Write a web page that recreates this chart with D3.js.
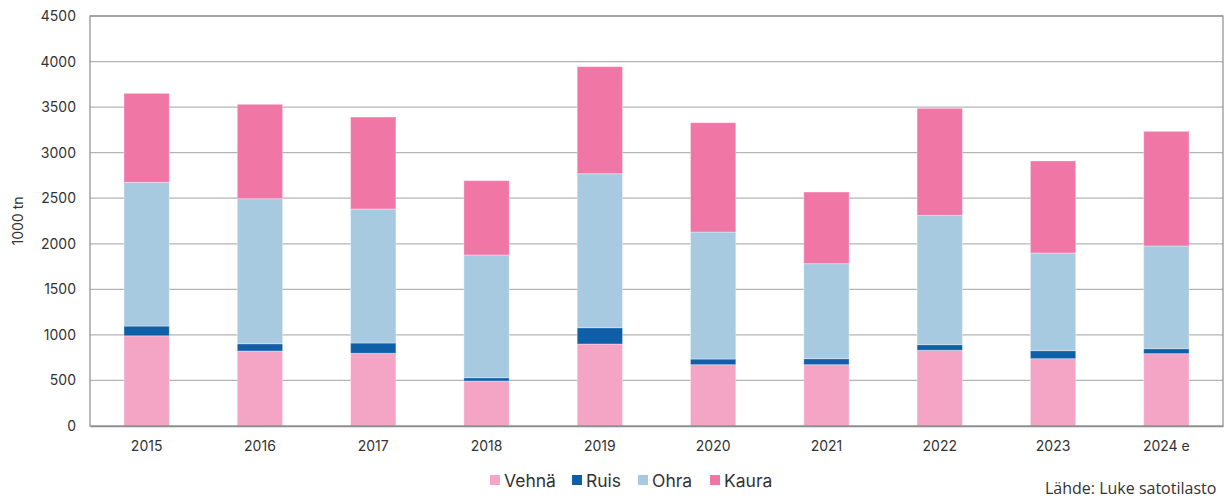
<!DOCTYPE html>
<html><head><meta charset="utf-8">
<script src="https://cdn.jsdelivr.net/npm/d3@7"></script>
<style>body{margin:0;background:#fff;font-family:Inter,"Open Sans",sans-serif;}</style>
</head><body><svg id="c" width="1225" height="499"></svg>
<script>
const categories = ["2015","2016","2017","2018","2019","2020","2021","2022","2023","2024 e"];
const vehna = [990,823,798,494,900,673,673,831,739,794];
const ruis  = [107,80,113,36,179,62,66,62,88,55];
const ohra  = [1578,1592,1471,1347,1690,1394,1043,1419,1072,1127];
const kaura = [976,1036,1009,816,1175,1200,786,1175,1010,1258];
const seriesNames = ["Vehnä","Ruis","Ohra","Kaura"];
const colors = ["#f4a4c4","#0f5ea8","#a8cae1","#ef76a5"];
const yTicks = [0,500,1000,1500,2000,2500,3000,3500,4000,4500];

const svg = d3.select("#c");
const m = {l:90,r:1223,t:16,b:426};
const x = d3.scaleBand().domain(categories).range([m.l,m.r]).paddingInner(0.6).paddingOuter(0.3);
const y = d3.scaleLinear().domain([0,4500]).range([m.b,m.t]);

const rows = categories.map((c,i)=>({cat:c,Vehnä:vehna[i],Ruis:ruis[i],Ohra:ohra[i],Kaura:kaura[i]}));
const stack = d3.stack().keys(seriesNames)(rows);

// gridlines
svg.append("g").selectAll("line").data(yTicks.slice(1)).join("line")
  .attr("x1",m.l).attr("x2",m.r).attr("y1",d=>y(d)).attr("y2",d=>y(d))
  .attr("stroke","#b4b4b4").attr("stroke-width",1.3);

// bars
svg.append("g").selectAll("g").data(stack).join("g")
  .attr("fill",(d,i)=>colors[i])
  .selectAll("rect").data(d=>d).join("rect")
  .attr("x",d=>x(d.data.cat)).attr("width",x.bandwidth())
  .attr("y",d=>y(d[1])).attr("height",d=>y(d[0])-y(d[1]))
  .attr("stroke","rgba(255,255,255,0.35)").attr("stroke-width",1);

// frame
svg.append("rect").attr("x",m.l).attr("y",m.t).attr("width",m.r-m.l).attr("height",m.b-m.t)
  .attr("fill","none").attr("stroke","#8c8c8c").attr("stroke-width",1.2);

// y axis
const ya = svg.append("g").attr("transform",`translate(${m.l},0)`)
  .call(d3.axisLeft(y).tickValues(yTicks).tickSize(0).tickPadding(14).tickFormat(d3.format("d")));
ya.select(".domain").remove();
ya.selectAll("text").attr("font-size",14).attr("fill","#333").attr("font-family","Inter,'Open Sans',sans-serif");

// x axis
const xa = svg.append("g").attr("transform",`translate(0,${m.b})`)
  .call(d3.axisBottom(x).tickSize(0).tickPadding(15));
xa.select(".domain").attr("stroke","#8c8c8c").attr("stroke-width",1.5);
xa.selectAll("text").attr("font-size",14).attr("fill","#333").attr("font-family","Inter,'Open Sans',sans-serif");

// y title
svg.append("text").attr("transform","translate(23,221) rotate(-90)")
  .attr("text-anchor","middle").attr("font-size",14).attr("fill","#333").text("1000 tn");

// legend
const legX = [490, 572, 638, 710];
const lg = svg.append("g");
seriesNames.forEach((s,i)=>{
  lg.append("rect").attr("x",legX[i]).attr("y",475).attr("width",10).attr("height",10).attr("fill",colors[i]);
  lg.append("text").attr("x",legX[i]+14).attr("y",487).attr("font-size",17.5).attr("fill","#333").text(s);
});

// source
svg.append("text").attr("x",1045).attr("y",494).attr("font-size",16).attr("fill","#333")
  .attr("font-family","'Open Sans',sans-serif").text("Lähde: Luke satotilasto");
</script></body></html>
